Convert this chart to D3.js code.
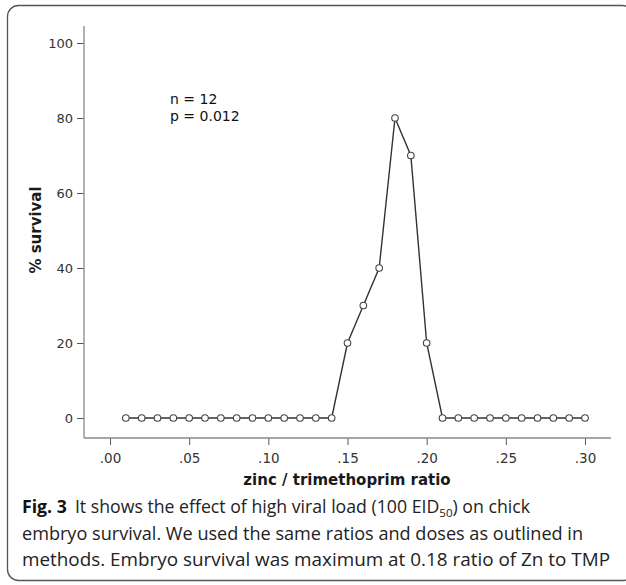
<!DOCTYPE html>
<html>
<head>
<meta charset="utf-8">
<script src="https://cdn.jsdelivr.net/npm/d3@7"></script>
<style>
  body { margin: 0; background: #fff; }
  svg { display: block; }
</style>
</head>
<body>
<div id="chart"></div>
<script>
// zinc / trimethoprim ratios and % survival
const ratios = [0.01, 0.02, 0.03, 0.04, 0.05, 0.06, 0.07, 0.08, 0.09, 0.10,
                0.11, 0.12, 0.13, 0.14, 0.15, 0.16, 0.17, 0.18, 0.19, 0.20,
                0.21, 0.22, 0.23, 0.24, 0.25, 0.26, 0.27, 0.28, 0.29, 0.30];
const survival = [0, 0, 0, 0, 0, 0, 0, 0, 0, 0,
                  0, 0, 0, 0, 20, 30, 40, 80, 70, 20,
                  0, 0, 0, 0, 0, 0, 0, 0, 0, 0];
const xTicks = [0, 0.05, 0.10, 0.15, 0.20, 0.25, 0.30];
const yTicks = [0, 20, 40, 60, 80, 100];
const stats = ["n = 12", "p = 0.012"];

const width = 626, height = 585;
const svg = d3.select("#chart").append("svg")
    .attr("width", width)
    .attr("height", height);

// rounded frame round the figure
svg.append("rect")
    .attr("x", 7.5).attr("y", 5.5)
    .attr("width", 626).attr("height", 575)
    .attr("rx", 11)
    .attr("fill", "none")
    .attr("stroke", "#555")
    .attr("stroke-width", 1.3);

const x = d3.scaleLinear().domain([0, 0.30]).range([110, 585]);
const y = d3.scaleLinear().domain([0, 100]).range([418, 43]);

const axisFont = "'DejaVu Sans', Verdana, sans-serif";

// y axis
const yAxis = svg.append("g")
    .attr("transform", "translate(84,0)")
    .call(d3.axisLeft(y).tickValues(yTicks).tickSize(7).tickPadding(4).tickFormat(d3.format("d")));
yAxis.select(".domain").remove();
yAxis.selectAll("line").attr("stroke", "#555");
yAxis.selectAll("text").attr("font-family", axisFont).attr("font-size", 13).attr("fill", "#333");
svg.append("line")
    .attr("x1", 84).attr("x2", 84).attr("y1", 26).attr("y2", 438)
    .attr("stroke", "#888").attr("stroke-width", 1.3);

// x axis
const xAxis = svg.append("g")
    .attr("transform", "translate(0,438)")
    .call(d3.axisBottom(x).tickValues(xTicks).tickSize(7).tickPadding(8)
        .tickFormat(d => d3.format(".2f")(d).replace(/^0/, "")));
xAxis.select(".domain").remove();
xAxis.selectAll("line").attr("stroke", "#555");
xAxis.selectAll("text").attr("font-family", axisFont).attr("font-size", 13.5).attr("fill", "#333");
svg.append("line")
    .attr("x1", 84).attr("x2", 611).attr("y1", 438).attr("y2", 438)
    .attr("stroke", "#888").attr("stroke-width", 1.3);

// axis titles
svg.append("text")
    .attr("x", 347).attr("y", 485)
    .attr("text-anchor", "middle")
    .attr("font-family", axisFont).attr("font-weight", "bold").attr("font-size", 15)
    .attr("fill", "#1a1a1a")
    .text("zinc / trimethoprim ratio");

svg.append("text")
    .attr("transform", "translate(41,230) rotate(-90)")
    .attr("text-anchor", "middle")
    .attr("font-family", axisFont).attr("font-weight", "bold").attr("font-size", 15)
    .attr("fill", "#1a1a1a")
    .text("% survival");

// n / p annotation
svg.append("g").selectAll("text")
    .data(stats)
    .enter().append("text")
    .attr("x", 170)
    .attr("y", (d, i) => 104 + i * 17)
    .attr("font-family", axisFont).attr("font-size", 14)
    .attr("fill", "#111")
    .text(d => d);

// line + open circle markers
const pts = ratios.map((r, i) => ({ r: r, v: survival[i] }));
svg.append("path")
    .datum(pts)
    .attr("fill", "none")
    .attr("stroke", "#333")
    .attr("stroke-width", 1.4)
    .attr("d", d3.line().x(d => x(d.r)).y(d => y(d.v)));

svg.selectAll(".pt")
    .data(pts)
    .enter().append("circle")
    .attr("class", "pt")
    .attr("cx", d => x(d.r))
    .attr("cy", d => y(d.v))
    .attr("r", 3.3)
    .attr("fill", "#fff")
    .attr("stroke", "#444")
    .attr("stroke-width", 1.1);

// caption
const capFont = "'Open Sans', 'Noto Sans', sans-serif";
const cap = svg.append("g")
    .attr("font-family", capFont)
    .attr("font-size", 17.5)
    .attr("fill", "#222");

const l1 = cap.append("text").attr("x", 22).attr("y", 513);
l1.append("tspan").attr("font-weight", "bold").attr("fill", "#111").text("Fig. 3");
l1.append("tspan").attr("dx", 8).text("It shows the effect of high viral load (100 EID");
l1.append("tspan").attr("font-size", 11.5).attr("dy", 4).text("50");
l1.append("tspan").attr("dy", -4).text(") on chick");

cap.append("text").attr("x", 22).attr("y", 540)
    .text("embryo survival. We used the same ratios and doses as outlined in");
cap.append("text").attr("x", 22).attr("y", 566)
    .text("methods. Embryo survival was maximum at 0.18 ratio of Zn to TMP");

// squeeze caption lines to the widths seen in the figure
const capWidths = [508, 561, 588];
cap.selectAll("text").each(function(d, i) {
    const w = this.getComputedTextLength();
    if (w > 0) {
        this.setAttribute("textLength", capWidths[i]);
        this.setAttribute("lengthAdjust", "spacingAndGlyphs");
    }
});
</script>
</body>
</html>
